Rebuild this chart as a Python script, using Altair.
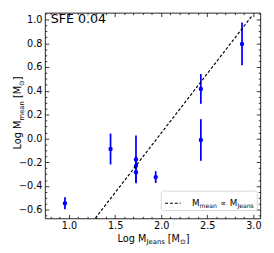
import altair as alt
import pandas as pd

# ---- data ----
log_mjeans = [0.955, 1.45, 1.726, 1.726, 1.726, 1.94, 2.43, 2.43, 2.877]
log_mmean = [-0.545, -0.089, -0.176, -0.23, -0.284, -0.325, 0.416, -0.013, 0.794]
log_mmean_err = [0.05, 0.13, 0.2, 0.08, 0.08, 0.05, 0.125, 0.175, 0.18]
fit_x = [1.284, 2.99]
fit_y = [-0.671, 1.035]
x_ticks = [1.0, 1.5, 2.0, 2.5, 3.0]
y_ticks = [-0.6, -0.4, -0.2, 0.0, 0.2, 0.4, 0.6, 0.8, 1.0]
x_minor = [0.8, 0.9, 1.1, 1.2, 1.3, 1.4, 1.6, 1.7, 1.8, 1.9, 2.1, 2.2, 2.3, 2.4,
           2.6, 2.7, 2.8, 2.9]
y_minor = [-0.65, -0.55, -0.5, -0.45, -0.35, -0.3, -0.25, -0.15, -0.1, -0.05,
           0.05, 0.1, 0.15, 0.25, 0.3, 0.35, 0.45, 0.5, 0.55, 0.65, 0.7, 0.75,
           0.85, 0.9, 0.95, 1.05]
X_DOMAIN = [0.737, 3.074]
Y_DOMAIN = [-0.671, 1.057]
title_text = "SFE 0.04"

W, H = 222, 212
FONT = "DejaVu Sans"
BLUE = "#0000ff"

df = pd.DataFrame({"x": log_mjeans, "y": log_mmean, "err": log_mmean_err})
df["lo"] = df["y"] - df["err"]
df["hi"] = df["y"] + df["err"]
fit = pd.DataFrame({"x": fit_x, "y": fit_y})
one = pd.DataFrame({"a": [0]})

xs = alt.Scale(domain=X_DOMAIN, nice=False, zero=False)
ys = alt.Scale(domain=Y_DOMAIN, nice=False, zero=False)

common = dict(ticks=False, domain=False, title=None, labelFont=FONT,
              labelFontSize=10, labelColor="black", grid=True,
              gridColor="black", gridOpacity=1, gridWidth=0.8,
              labelFlush=False, labelOverlap=False)
x_major = alt.Axis(orient="bottom", values=x_ticks, format=".1f",
                   labelPadding=3, gridDash=[4, H - 8], **common)
y_major = alt.Axis(orient="left", values=y_ticks, format=".1f",
                   labelPadding=3, gridDash=[4, W - 8], **common)
minor_common = dict(ticks=False, domain=False, labels=False, title=None,
                    grid=True, gridColor="black", gridOpacity=1, gridWidth=0.8)
x_min_ax = alt.Axis(orient="top", values=x_minor, gridDash=[2, H - 4], **minor_common)
y_min_ax = alt.Axis(orient="right", values=y_minor, gridDash=[2, W - 4], **minor_common)

bars = alt.Chart(df).mark_rule(color=BLUE, strokeWidth=1.8).encode(
    x=alt.X("x:Q", scale=xs, axis=x_major),
    y=alt.Y("lo:Q", scale=ys, axis=y_major),
    y2="hi:Q",
)
pts = alt.Chart(df).mark_point(shape="circle", filled=True, color=BLUE,
                               size=20, opacity=1).encode(
    x=alt.X("x:Q", scale=xs, axis=x_major),
    y=alt.Y("y:Q", scale=ys, axis=y_major),
)
data_layer = alt.layer(bars, pts)

line = alt.Chart(fit).mark_line(color="black", strokeDash=[3, 2],
                                strokeWidth=1.2, clip=True).encode(
    x=alt.X("x:Q", scale=xs, axis=x_min_ax),
    y=alt.Y("y:Q", scale=ys, axis=y_min_ax),
)


def txt(s, x, y, size=10, angle=0):
    return alt.Chart(one).mark_text(text=s, font=FONT, fontSize=size,
                                    align="left", baseline="alphabetic",
                                    angle=angle, color="black").encode(
        x=alt.value(x), y=alt.value(y))


texts = [
    txt(title_text, 6, 11, size=13),
    # x title
    txt("Log M", 75, 236), txt("Jeans", 104.9, 238.5, 7),
    txt("[M", 126.8, 236), txt("⊙", 139.3, 238.5, 7), txt("]", 145.2, 236),
    # y title (rotated)
    txt("Log M", -24.5, 141, angle=270), txt("mean", -22, 111.1, 7, 270),
    txt("[M", -24.5, 88.0, angle=270), txt("⊙", -22, 75.5, 7, 270),
    txt("]", -24.5, 69.6, angle=270),
]

legend_box = alt.Chart(one).mark_rect(fill="white", fillOpacity=0.85,
                                      stroke="#cccccc", strokeWidth=0.8,
                                      cornerRadius=2).encode(
    x=alt.value(120), x2=alt.value(219), y=alt.value(184), y2=alt.value(204))
legend_dash = alt.Chart(one).mark_rule(color="black", strokeDash=[3, 2],
                                       strokeWidth=1.2).encode(
    x=alt.value(124), x2=alt.value(140), y=alt.value(196.5))
legend_texts = [
    txt("M", 151.7, 199.7, 9), txt("mean", 159.5, 201.7, 6.3),
    txt("∝", 180.6, 199.7, 9), txt("M", 190.7, 199.7, 9),
    txt("Jeans", 198.5, 201.7, 6.3),
]

chart = alt.layer(data_layer, line, legend_box, legend_dash, *legend_texts,
                  *texts).resolve_scale(x="independent", y="independent").properties(
    width=W, height=H,
    padding={"left": 38, "top": 1, "right": 6, "bottom": 32},
    autosize=alt.AutoSizeParams(type="none"),
).configure_view(stroke="#222222", strokeWidth=1)

chart.save("out.html", embed_options={"renderer": "svg", "actions": False})
